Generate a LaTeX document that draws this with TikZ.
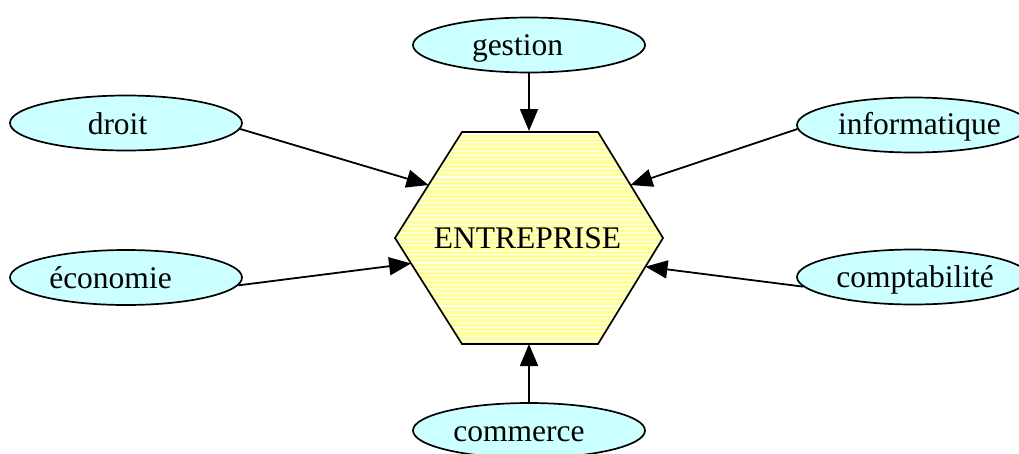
\documentclass[tikz,border=0pt]{standalone}
\usepackage{fontspec}
\setmainfont{Liberation Serif}
\usetikzlibrary{shapes.geometric,arrows.meta,calc}
\definecolor{bubble}{RGB}{204,255,255}
\definecolor{hexyellow}{RGB}{255,255,153}
\tikzset{
  topic/.style={ellipse, draw=black, line width=1.7pt, fill=bubble,
    minimum width=232pt, minimum height=55pt, inner sep=0pt},
  word/.style={inner sep=0pt, text height=21pt, text depth=0pt,
    font=\fontsize{31.5}{36}\selectfont},
  link/.style={line width=1.8pt, -{Triangle[length=22pt,width=18pt]}},
}
\begin{document}
\begin{tikzpicture}[x=1pt,y=-1pt]
  \clip (0,0) rectangle (1019,453);
  \useasboundingbox (0,0) rectangle (1019,453);

  % hexagon corners
  \coordinate (A) at (462,132);
  \coordinate (B) at (598,132);
  \coordinate (C) at (663,238);
  \coordinate (D) at (598,344);
  \coordinate (E) at (462,344);
  \coordinate (F) at (395,238);

  % striped yellow fill
  \begin{scope}
    \clip (A) -- (B) -- (C) -- (D) -- (E) -- (F) -- cycle;
    \fill[hexyellow] (390,128) rectangle (668,348);
    \foreach \y in {134,138.3,...,346}
      \draw[white, line width=1.1pt] (390,\y) -- (668,\y);
  \end{scope}
  \draw[line width=1.7pt, line join=miter] (A) -- (B) -- (C) -- (D) -- (E) -- (F) -- cycle;
  \node[word] (ent) at (527.5,238) {ENTREPRISE};

  % surrounding topics
  \node[topic] (gestion) at (529,45) {};
  \node[topic] (droit) at (126,123) {};
  \node[topic] (economie) at (126,277.5) {};
  \node[topic] (info) at (913,125) {};
  \node[topic] (compta) at (913,277) {};
  \node[topic] (commerce) at (529,430.5) {};

  \node[word] (gestion-t) at (517.5,44.5) {gestion};
  \node[word] (droit-t) at (117.5,123.5) {droit};
  \node[word] (economie-t) at (110.5,277.5) {économie};
  \node[word] (info-t) at (919.5,124) {informatique};
  \node[word] (compta-t) at (915,276.5) {comptabilité};
  \node[word] (commerce-t) at (519,430.5) {commerce};

  % arrow tips on the hexagon
  \coordinate (tg) at (529,131);
  \coordinate (tc) at (529,344);
  \coordinate (td) at ($(F)!0.5!(A)$);
  \coordinate (ti) at ($(B)!0.5!(C)$);
  \coordinate (te) at ($(F)!0.24!(E)$);
  \coordinate (tk) at ($(C)!0.27!(D)$);

  \draw[link] (gestion.south) -- (tg);
  \draw[link] (commerce.north) -- (tc);
  \draw[link] (droit.-3) -- (td);
  \draw[link] (economie.-4) -- (te);
  \draw[link] (info.182) -- (ti);
  \draw[link] (compta.185) -- (tk);
\end{tikzpicture}
\end{document}
